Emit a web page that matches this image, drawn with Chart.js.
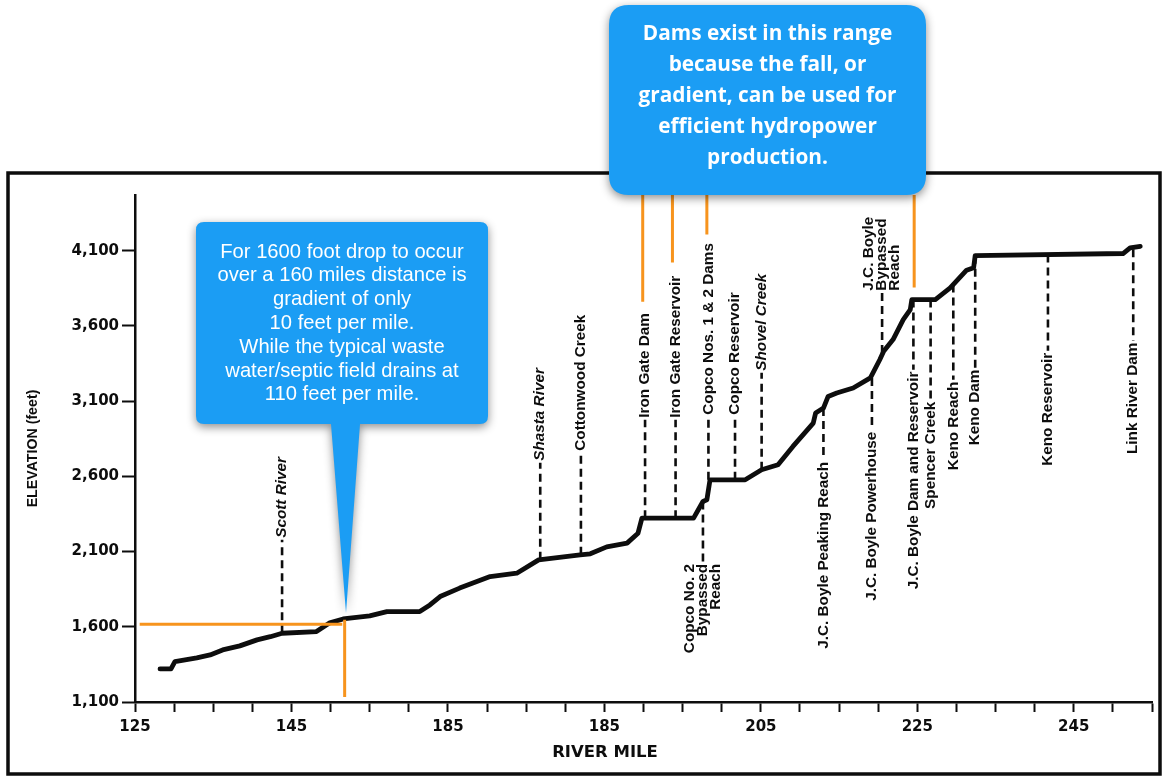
<!DOCTYPE html>
<html>
<head>
<meta charset="utf-8">
<script src="https://cdn.jsdelivr.net/npm/chart.js@4.4.0/dist/chart.umd.min.js"></script>
<style>
html,body{margin:0;padding:0;background:#fff;}
#wrap{width:1170px;height:778px;position:relative;}
canvas{display:block;}
</style>
</head>
<body>
<div id="wrap"><canvas id="c" width="1170" height="778"></canvas></div>
<script>
// ---------- DATA ----------
const riverMile = [128.2,129.6,130.1,132.9,134.6,136.2,138.4,140.6,142.3,143.8,148.2,149.9,151.6,155.0,157.2,161.4,162.7,164.0,166.5,170.4,173.8,176.6,181.9,183.2,185.3,187.9,189.3,189.8,196.4,197.6,198.1,198.5,203.0,205.1,207.2,209.1,211.7,212.0,213.0,213.6,214.7,216.8,219.0,220.2,220.7,221.9,223.2,224.1,224.3,227.3,229.2,231.3,232.2,232.4,251.3,252.2,253.5];
const elevationFt = [1320,1320,1368,1393,1413,1446,1473,1513,1534,1557,1568,1626,1652,1672,1701,1701,1745,1801,1857,1934,1956,2045,2078,2085,2131,2156,2222,2322,2322,2433,2444,2577,2577,2644,2677,2799,2954,3021,3054,3131,3154,3187,3254,3375,3431,3509,3642,3708,3775,3775,3852,3970,3986,4067,4081,4119,4129];

const yTickValues = [1100,1600,2100,2600,3100,3600,4100];
const xTickPositions = [125,130,135,140,145,150,155,160,165,170,175,180,185,190,195,200,205,210,215,220,225,230,235,240,245,250,255];
const xLabeledTicks = [125,145,165,185,205,225,245];
const xTickText = ['125','145','185','185','205','225','245'];

const landmarkNames = [
  ['Scott River'],['Shasta River'],['Cottonwood Creek'],['Iron Gate Dam'],['Iron Gate Reservoir'],
  ['Copco Nos. 1 & 2 Dams'],['Copco Reservoir'],['Shovel Creek'],['J.C. Boyle','Bypassed','Reach'],
  ['Copco No. 2','Bypassed','Reach'],['J.C. Boyle Peaking Reach'],['J.C. Boyle Powerhouse'],
  ['J.C. Boyle Dam and Reservoir'],['Spencer Creek'],['Keno Reach'],['Keno Dam'],['Keno Reservoir'],['Link River Dam']
];
const landmarkMile = [143.8,176.8,182.0,190.2,194.1,198.3,201.7,205.1,220.5,197.6,213.0,219.2,224.5,226.7,229.6,232.4,241.7,252.6];
const landmarkElev = [1557,2045,2078,2322,2322,2577,2577,2644,3420,2433,3054,3254,3775,3775,3875,4067,4075,4110];
// where the dashed leader ends (label attaches), in feet, and which side
const leaderEndElev = [2178,2690,2757,2976,2976,2996,2996,3289,3821,2031,2710,2910,3309,3109,3242,3322,3435,3502];
const leaderSide = ['up','up','up','up','up','up','up','up','up','down','down','down','down','down','down','down','down','down'];
const italicLabels = ['Scott River','Shasta River','Shovel Creek'];

// orange highlight lines (mile, from ft, to ft)
const damPointerMile = [189.9,193.7,198.1,224.6];
const damPointerEndElev = [3761,4021,4207,3855];
const gradientRefElev = 1616;
const gradientRefMiles = [125.6,151.5];
const gradientDropMile = 151.8;
const gradientDropElev = [1646,1133];

const Y_MIN = 1100, Y_MAX = 4470, X_MIN = 125, X_MAX = 255;

const BLUE = '#1b9df4';
const ORANGE = '#f7941d';
const INK = '#0d0d0d';

// ---------- DATASETS ----------
const datasets = [];
datasets.push({
  label: 'Elevation', data: riverMile.map((m,i)=>({x:m,y:elevationFt[i]})),
  borderColor:INK, borderWidth:4.8, pointRadius:0, showLine:true, tension:0,
  borderJoinStyle:'round', borderCapStyle:'round', order:1
});
landmarkMile.forEach((m,i)=>{
  datasets.push({
    label:'leader'+i, data:[{x:m,y:landmarkElev[i]},{x:m,y:leaderEndElev[i]}],
    borderColor:INK, borderWidth:2.6, borderDash:[8,5], pointRadius:0, showLine:true, order:2
  });
});
damPointerMile.forEach((m,i)=>{
  datasets.push({
    label:'dam'+i, data:[{x:m,y:Y_MAX},{x:m,y:damPointerEndElev[i]}],
    borderColor:ORANGE, borderWidth:3, pointRadius:0, showLine:true, order:0
  });
});
datasets.push({
  label:'refH', data:[{x:gradientRefMiles[0],y:gradientRefElev},{x:gradientRefMiles[1],y:gradientRefElev}],
  borderColor:ORANGE, borderWidth:3, pointRadius:0, showLine:true, order:0
});
datasets.push({
  label:'refV', data:[{x:gradientDropMile,y:gradientDropElev[0]},{x:gradientDropMile,y:gradientDropElev[1]}],
  borderColor:ORANGE, borderWidth:3, pointRadius:0, showLine:true, order:0
});

// ---------- PLUGIN ----------
const annot = {
  id:'annot',
  beforeDraw(chart){
    const ctx = chart.ctx;
    ctx.save();
    ctx.fillStyle='#fff'; ctx.fillRect(0,0,chart.width,chart.height);
    ctx.strokeStyle=INK; ctx.lineWidth=3.5;
    ctx.strokeRect(8,173,1152,601);
    ctx.restore();
  },
  afterDatasetsDraw(chart){
    const {ctx, scales:{x,y}} = chart;
    ctx.save();
    ctx.fillStyle=INK;
    landmarkNames.forEach((lines,i)=>{
      const px = x.getPixelForValue(landmarkMile[i]);
      const py = y.getPixelForValue(leaderEndElev[i]);
      const up = leaderSide[i]==='up';
      const it = italicLabels.includes(lines[0]);
      ctx.save();
      ctx.translate(px, up ? py-2 : py+2);
      ctx.rotate(-Math.PI/2);
      ctx.font = (it?'italic ':'')+'bold 15.3px "Liberation Sans", Arial, sans-serif';
      ctx.textAlign = up ? 'left' : 'right';
      ctx.textBaseline = 'middle';
      const n = lines.length;
      lines.forEach((t,j)=>ctx.fillText(t,0,(j-(n-1)/2)*13));
      ctx.restore();
    });
    // x-axis title
    ctx.font='bold 16.5px "DejaVu Sans", sans-serif';
    ctx.textAlign='center'; ctx.textBaseline='middle';
    ctx.fillText('RIVER MILE', 605, 753);
    ctx.restore();
  },
  afterDraw(chart){
    const ctx = chart.ctx;
    // left callout
    ctx.save();
    ctx.shadowColor='rgba(0,0,0,0.45)'; ctx.shadowBlur=10; ctx.shadowOffsetY=3;
    ctx.fillStyle=BLUE;
    ctx.beginPath();
    const L=196,T=222,R=488,B=424,r=8;
    ctx.moveTo(L+r,T);
    ctx.lineTo(R-r,T); ctx.quadraticCurveTo(R,T,R,T+r);
    ctx.lineTo(R,B-r); ctx.quadraticCurveTo(R,B,R-r,B);
    ctx.lineTo(360,B); ctx.lineTo(346,613); ctx.lineTo(331,B);
    ctx.lineTo(L+r,B); ctx.quadraticCurveTo(L,B,L,B-r);
    ctx.lineTo(L,T+r); ctx.quadraticCurveTo(L,T,L+r,T);
    ctx.closePath(); ctx.fill();
    ctx.restore();
    ctx.save();
    ctx.fillStyle='#fff';
    ctx.font='20.2px "Liberation Sans", Arial, sans-serif';
    ctx.textAlign='center'; ctx.textBaseline='middle';
    const leftText=['For 1600 foot drop to occur','over a 160 miles distance is','gradient of only','10 feet per mile.','While the typical waste','water/septic field drains at','110 feet per mile.'];
    leftText.forEach((t,i)=>ctx.fillText(t,342,252+i*23.8));
    ctx.restore();
    // top callout
    ctx.save();
    ctx.shadowColor='rgba(0,0,0,0.45)'; ctx.shadowBlur=10; ctx.shadowOffsetY=3;
    ctx.fillStyle=BLUE;
    ctx.beginPath();
    const L2=609,T2=5,R2=926,B2=195,r2=20;
    ctx.moveTo(L2+r2,T2);
    ctx.lineTo(R2-r2,T2); ctx.quadraticCurveTo(R2,T2,R2,T2+r2);
    ctx.lineTo(R2,B2-r2); ctx.quadraticCurveTo(R2,B2,R2-r2,B2);
    ctx.lineTo(L2+r2,B2); ctx.quadraticCurveTo(L2,B2,L2,B2-r2);
    ctx.lineTo(L2,T2+r2); ctx.quadraticCurveTo(L2,T2,L2+r2,T2);
    ctx.closePath(); ctx.fill();
    ctx.restore();
    ctx.save();
    ctx.fillStyle='#fff';
    ctx.font='bold 20.8px "Open Sans", "Noto Sans", sans-serif';
    ctx.textAlign='center'; ctx.textBaseline='middle';
    const topText=['Dams exist in this range','because the fall, or','gradient, can be used for','efficient hydropower','production.'];
    topText.forEach((t,i)=>ctx.fillText(t,767.5,34+i*31));
    ctx.restore();
  }
};

// ---------- CHART ----------
new Chart(document.getElementById('c'),{
  type:'scatter',
  data:{datasets},
  options:{
    responsive:false, animation:false, devicePixelRatio:1,
    layout:{padding:{top:195,right:18,bottom:0,left:0}},
    plugins:{legend:{display:false},tooltip:{enabled:false}},
    scales:{
      x:{
        type:'linear', min:X_MIN, max:X_MAX,
        afterBuildTicks:s=>{s.ticks=xTickPositions.map(v=>({value:v}));},
        afterFit:s=>{s.height=76;},
        grid:{display:true,drawOnChartArea:false,drawTicks:true,tickLength:10,tickColor:INK,tickWidth:2},
        border:{display:true,color:INK,width:2.5},
        ticks:{autoSkip:false,maxRotation:0,padding:6,color:INK,
          font:{family:'"DejaVu Sans", sans-serif',weight:'bold',size:15},
          callback:v=>{const k=xLabeledTicks.indexOf(v);return k>=0?xTickText[k]:'';}},
        title:{display:false}
      },
      y:{
        type:'linear', min:Y_MIN, max:Y_MAX,
        afterBuildTicks:s=>{s.ticks=yTickValues.map(v=>({value:v}));},
        afterFit:s=>{s.width=135;},
        grid:{display:true,drawOnChartArea:false,drawTicks:true,tickLength:13,tickColor:INK,tickWidth:2},
        border:{display:true,color:INK,width:2.5},
        ticks:{padding:3,color:INK,
          font:{family:'"DejaVu Sans", sans-serif',weight:'bold',size:15},
          callback:v=>v.toLocaleString('en-US')},
        title:{display:true,text:'ELEVATION (feet)',color:INK,
          font:{family:'"Liberation Sans", Arial, sans-serif',weight:'bold',size:14.2},padding:{top:25,bottom:0}}
      }
    }
  },
  plugins:[annot]
});
</script>
</body>
</html>
